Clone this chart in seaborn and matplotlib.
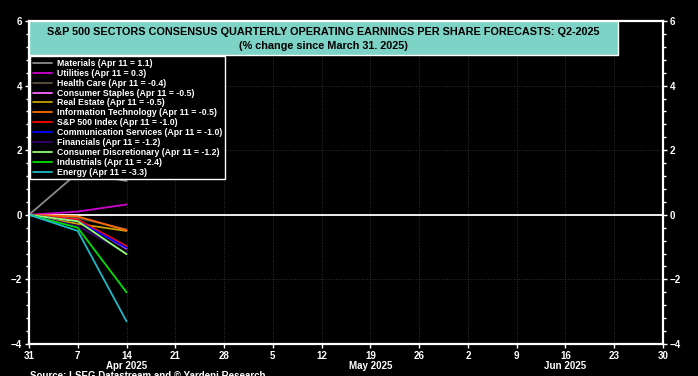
import matplotlib
matplotlib.use("Agg")
import matplotlib.pyplot as plt
import matplotlib.dates as mdates
from matplotlib.patches import Rectangle
from matplotlib.ticker import MultipleLocator
import seaborn as sns
import pandas as pd
import numpy as np

sns.set_theme(style="dark")
plt.rcParams['font.family'] = ['Liberation Sans', 'DejaVu Sans']

dates = ["2025-03-31", "2025-04-07", "2025-04-14"]
sectors = ["Materials", "Utilities", "Health Care", "Consumer Staples", "Real Estate",
           "Information Technology", "S&P 500 Index", "Communication Services",
           "Financials", "Consumer Discretionary", "Industrials", "Energy"]
latest = [1.1, 0.3, -0.4, -0.5, -0.5, -0.5, -1.0, -1.0, -1.2, -1.2, -2.4, -3.3]
materials = [0.0, 1.3, 1.05]
utilities = [0.0, 0.1, 0.32]
health_care = [0.0, -0.1, -0.45]
consumer_staples = [0.0, -0.15, -1.05]
real_estate = [0.0, -0.28, -0.5]
info_tech = [0.0, -0.05, -0.48]
sp500 = [0.0, -0.15, -0.97]
comm_services = [0.0, -0.2, -1.02]
financials = [0.0, -0.35, -1.18]
consumer_disc = [0.0, -0.2, -1.22]
industrials = [0.0, -0.4, -2.4]
energy = [0.0, -0.5, -3.3]
colors = ["#8a8a8a", "#d000d0", "#5e5240", "#ff66ff", "#c8a000", "#ff6a00",
          "#ff0000", "#0000ff", "#3a0070", "#90ff70", "#00e000", "#20b8c8"]

series = [materials, utilities, health_care, consumer_staples, real_estate, info_tech,
          sp500, comm_services, financials, consumer_disc, industrials, energy]
rows = []
labels = []
for s, v, vals in zip(sectors, latest, series):
    lab = f"{s} (Apr 11 = {v:.1f})"
    labels.append(lab)
    for d, y in zip(dates, vals):
        rows.append({"date": pd.Timestamp(d), "value": y, "label": lab})
df = pd.DataFrame(rows)
palette = dict(zip(labels, colors))

fig = plt.figure(figsize=(6.98, 3.76), dpi=100, facecolor="black")
ax = fig.add_axes([29/698, 1-344/376, (663-29)/698, (344-21)/376])
ax.set_facecolor("black")

sns.lineplot(data=df, x="date", y="value", hue="label", hue_order=labels,
             palette=palette, ax=ax, linewidth=1.3, legend=True)

ax.axhline(0, color="white", lw=1.3, zorder=1)

ax.set_xlim(pd.Timestamp("2025-03-31"), pd.Timestamp("2025-06-30"))
ax.set_ylim(-4, 6)
ax.xaxis.set_major_locator(mdates.WeekdayLocator(byweekday=mdates.MO))
ax.xaxis.set_major_formatter(mdates.DateFormatter("%-d"))
ax.yaxis.set_major_locator(MultipleLocator(2))
ax.yaxis.set_minor_locator(MultipleLocator(0.4))
ax.set_xlabel("")
ax.set_ylabel("")
ax.grid(True, which="major", color="#333333", linestyle=":", linewidth=0.7)
ax.tick_params(axis="both", colors="white", labelsize=7, length=3, width=1)
ax.tick_params(axis="y", which="minor", colors="white", length=2, left=True, right=True)
ax.tick_params(axis="y", left=True, right=True, labelleft=True, labelright=True, pad=2)
ax.tick_params(axis="x", bottom=True, pad=2)
for lab in ax.get_xticklabels() + ax.get_yticklabels():
    lab.set_fontweight("bold")
for sp in ax.spines.values():
    sp.set_color("white")
    sp.set_linewidth(1.6)
    sp.set_visible(True)

for txt, d in [("Apr 2025", "2025-04-14"), ("May 2025", "2025-05-19"), ("Jun 2025", "2025-06-16")]:
    ax.text(mdates.date2num(pd.Timestamp(d)), -(366-344)/323, txt, transform=ax.get_xaxis_transform(),
            ha="center", va="center", color="white", fontsize=7, fontweight="bold")

# title box
ax.add_patch(Rectangle((0, (344-55)/323), (618-29)/634, 1-(344-55)/323,
                       transform=ax.transAxes, facecolor="#7dd3c5", edgecolor="white",
                       lw=1.0, zorder=5, clip_on=False))
ax.text((323-29)/634, (344-32)/323, "S&P 500 SECTORS CONSENSUS QUARTERLY OPERATING EARNINGS PER SHARE FORECASTS: Q2-2025",
        transform=ax.transAxes, ha="center", va="center", fontsize=7.8, fontweight="bold",
        color="black", zorder=6)
ax.text((323-29)/634, (344-46)/323, "(% change since March 31. 2025)",
        transform=ax.transAxes, ha="center", va="center", fontsize=7.8, fontweight="bold",
        color="black", zorder=6)

leg = ax.legend(loc="upper left", bbox_to_anchor=(0.0, (344-55)/323), frameon=True,
                fontsize=6.35, handlelength=2.2, handletextpad=0.5, labelspacing=0.1,
                borderpad=0.3, borderaxespad=0.15, fancybox=False)
leg.get_frame().set_facecolor("black")
leg.get_frame().set_edgecolor("white")
leg.get_frame().set_linewidth(1.0)
leg.get_frame().set_alpha(1)
leg.set_zorder(7)
for t in leg.get_texts():
    t.set_color("white")
    t.set_fontweight("bold")
for h in leg.get_lines():
    h.set_linewidth(1.3)

fig.text(30/698, 1-371/376, "Source: LSEG Datastream and © Yardeni Research", ha="left", va="top",
         color="white", fontsize=7, fontweight="bold")

fig.savefig("out.png", dpi=100, facecolor="black")
